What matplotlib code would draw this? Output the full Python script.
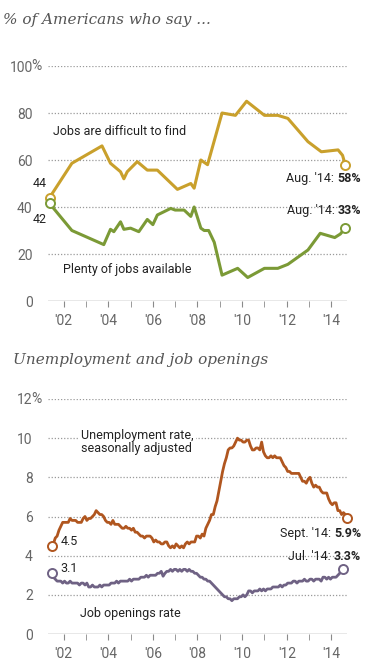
import matplotlib
matplotlib.use("Agg")
import matplotlib.pyplot as plt
import numpy as np

plt.rcParams['font.family'] = ['Roboto', 'DejaVu Sans']

# --- survey: % of Americans who say ...
difficult_x = [2001.37, 2002.37, 2003.72, 2004.1, 2004.55, 2004.7, 2004.85, 2005.3, 2005.75,
               2006.2, 2007.1, 2007.7, 2007.85, 2008.15, 2008.45, 2009.1, 2009.7, 2010.2,
               2011.0, 2011.6, 2012.05, 2012.95, 2013.55, 2014.3, 2014.5, 2014.62]
difficult_y = [44, 58.6, 66, 58.6, 55, 52, 55, 59.3, 55.7,
               55.7, 47.5, 50, 48, 60, 58, 80, 79, 85,
               79, 79, 77.7, 67.8, 63.5, 64.3, 62, 58]

plenty_x = [2001.37, 2002.37, 2003.8, 2004.1, 2004.25, 2004.55, 2004.7, 2005.0, 2005.37,
            2005.75, 2006.0, 2006.2, 2006.8, 2007.0, 2007.4, 2007.7, 2007.85, 2008.15,
            2008.3, 2008.5, 2008.75, 2009.1, 2009.8, 2010.25, 2011.0, 2011.6, 2012.05,
            2012.95, 2013.5, 2014.15, 2014.4, 2014.62]
plenty_y = [41.5, 30, 24, 30.5, 29.5, 33.7, 30.5, 31, 29.5,
            34.7, 32.5, 36.6, 39.4, 38.7, 38.7, 36, 40, 31,
            30, 30, 25, 11, 13.9, 10, 13.9, 13.9, 15.6,
            21.7, 28.8, 27, 28.5, 31]

# --- unemployment rate, monthly Jun 2001 - Sep 2014
unemp = [4.5, 4.6, 4.9, 5.0, 5.3, 5.5, 5.7,
         5.7, 5.7, 5.7, 5.9, 5.8, 5.8, 5.8, 5.7, 5.7, 5.7, 5.9, 6.0,
         5.8, 5.9, 5.9, 6.0, 6.1, 6.3, 6.2, 6.1, 6.1, 6.0, 5.8, 5.7,
         5.7, 5.6, 5.8, 5.6, 5.6, 5.6, 5.5, 5.4, 5.4, 5.5, 5.4, 5.4,
         5.3, 5.4, 5.2, 5.2, 5.1, 5.0, 5.0, 4.9, 5.0, 5.0, 5.0, 4.9,
         4.7, 4.8, 4.7, 4.7, 4.6, 4.6, 4.7, 4.7, 4.5, 4.4, 4.5, 4.4,
         4.6, 4.5, 4.4, 4.5, 4.4, 4.6, 4.7, 4.6, 4.7, 4.7, 4.7, 5.0,
         5.0, 4.9, 5.1, 5.0, 5.4, 5.6, 5.8, 6.1, 6.1, 6.5, 6.8, 7.3,
         7.8, 8.3, 8.7, 9.0, 9.4, 9.5, 9.5, 9.6, 9.8, 10.0, 9.9, 9.9,
         9.8, 9.8, 9.9, 9.9, 9.6, 9.4, 9.4, 9.5, 9.5, 9.4, 9.8, 9.3,
         9.1, 9.0, 9.0, 9.1, 9.0, 9.1, 9.0, 9.0, 9.0, 8.8, 8.6, 8.5,
         8.3, 8.3, 8.2, 8.2, 8.2, 8.2, 8.2, 8.0, 7.8, 7.8, 7.7, 7.9,
         8.0, 7.7, 7.5, 7.6, 7.5, 7.5, 7.3, 7.2, 7.2, 7.2, 6.9, 6.7,
         6.6, 6.7, 6.7, 6.3, 6.3, 6.1, 6.2, 6.1, 5.9]

# --- job openings rate, monthly Jun 2001 - Jul 2014
openings = [3.1, 2.9, 2.8, 2.7, 2.7, 2.7, 2.6,
            2.7, 2.6, 2.6, 2.7, 2.6, 2.6, 2.6, 2.6, 2.5, 2.6, 2.6, 2.5,
            2.6, 2.4, 2.4, 2.5, 2.4, 2.4, 2.4, 2.5, 2.4, 2.5, 2.5, 2.5,
            2.5, 2.6, 2.6, 2.6, 2.7, 2.6, 2.7, 2.7, 2.7, 2.7, 2.7, 2.8,
            2.7, 2.8, 2.8, 2.8, 2.8, 2.9, 2.9, 2.9, 3.0, 2.9, 3.0, 3.0,
            3.0, 3.0, 3.1, 3.1, 3.2, 2.95, 3.1, 3.2, 3.2, 3.3, 3.2, 3.3,
            3.3, 3.2, 3.3, 3.2, 3.3, 3.3, 3.2, 3.3, 3.2, 3.2, 3.1, 3.1,
            3.0, 2.9, 2.9, 2.8, 2.8, 2.7, 2.7, 2.6, 2.5, 2.4, 2.3, 2.2,
            2.1, 2.0, 1.9, 1.9, 1.8, 1.8, 1.7, 1.8, 1.8, 1.8, 1.9, 1.9,
            2.0, 1.9, 2.0, 2.2, 2.2, 2.1, 2.2, 2.2, 2.2, 2.3, 2.2, 2.3,
            2.2, 2.3, 2.3, 2.3, 2.4, 2.4, 2.4, 2.4, 2.5, 2.4, 2.5, 2.5,
            2.6, 2.6, 2.6, 2.7, 2.7, 2.6, 2.7, 2.7, 2.7, 2.8, 2.7, 2.7,
            2.8, 2.8, 2.7, 2.8, 2.8, 2.8, 2.7, 2.9, 2.9, 2.8, 2.9, 2.8,
            2.9, 2.9, 2.9, 3.0, 3.1, 3.3, 3.3]

unemp_x = 2001 + 5.5 / 12 + np.arange(len(unemp)) / 12
open_x = 2001 + 5.5 / 12 + np.arange(len(openings)) / 12

GOLD = "#c9a02c"
GREEN = "#7b9a36"
BROWN = "#b0561f"
PURPLE = "#6f6284"
GRID = "#9a9a9a"
TICK = "#666666"
DARK = "#222222"
FS = 9

W, H = 383, 671
fig = plt.figure(figsize=(W / 100, H / 100), dpi=100)


def setup(ax, ymax, ystep):
    ax.set_xlim(2001.3, 2014.7)
    ax.set_ylim(0, ymax)
    for s in ax.spines.values():
        s.set_visible(False)
    ax.axhline(0, color="#8a8a8a", lw=1, zorder=1)
    for v in range(ystep, ymax + 1, ystep):
        ax.axhline(v, color=GRID, lw=0.9, ls=(0, (1, 1.5)), zorder=0)
    ax.set_yticks(range(0, ymax + 1, ystep))
    ax.set_yticklabels([str(v) for v in range(0, ymax + 1, ystep)])
    ax.tick_params(axis="y", length=0, pad=11, labelsize=10, labelcolor=TICK)
    ax.set_xticks(range(2002, 2015, 2))
    ax.set_xticklabels(["'%02d" % (y % 100) for y in range(2002, 2015, 2)])
    ax.set_xticks(range(2003, 2015, 2), minor=True)
    ax.tick_params(axis="x", which="both", length=4, color="#8a8a8a",
                   pad=5, labelsize=10, labelcolor=TICK)
    # hanging percent sign after the top tick label
    ax.annotate("%", xy=(0, ymax), xycoords=("axes fraction", "data"),
                xytext=(-16.5, 0), textcoords="offset pixels",
                ha="left", va="center", fontsize=10, color=TICK)


def end_label(ax, x, y, plain, bold):
    b = ax.text(x, y, bold, fontsize=FS, color=DARK, va="center", ha="right",
                fontweight="bold", clip_on=False)
    ax.annotate(plain, xy=(0, 0.5), xycoords=b, ha="right", va="center",
                fontsize=FS, color=DARK)


# ---------------- top chart
ax1 = fig.add_axes([48 / W, 370 / H, 299 / W, 235 / H])
setup(ax1, 100, 20)
ax1.plot(difficult_x, difficult_y, color=GOLD, lw=2.2, solid_joinstyle="round", zorder=3)
ax1.plot(plenty_x, plenty_y, color=GREEN, lw=2.2, solid_joinstyle="round", zorder=3)
for xs, ys, c in [(difficult_x, difficult_y, GOLD), (plenty_x, plenty_y, GREEN)]:
    ax1.plot([xs[0], xs[-1]], [ys[0], ys[-1]], "o", ms=6.5, mfc="white", mec=c, mew=1.4,
             zorder=4, clip_on=False)

ax1.text(2001.52, 72, "Jobs are difficult to find", fontsize=FS, color=DARK, va="center")
ax1.text(2001.98, 13.6, "Plenty of jobs available", fontsize=FS, color=DARK, va="center")
ax1.text(2001.25, 50, "44", fontsize=FS, color=DARK, va="center", ha="right")
ax1.text(2001.25, 34.5, "42", fontsize=FS, color=DARK, va="center", ha="right")
end_label(ax1, 2015.33, 52, "Aug. '14: ", "58%")
end_label(ax1, 2015.33, 38.3, "Aug. '14: ", "33%")

# ---------------- bottom chart
ax2 = fig.add_axes([48 / W, 37 / H, 299 / W, 235 / H])
setup(ax2, 12, 2)
ax2.plot(unemp_x, unemp, color=BROWN, lw=2.0, zorder=3)
ax2.plot(open_x, openings, color=PURPLE, lw=2.0, zorder=3)
for xs, ys, c in [(unemp_x, unemp, BROWN), (open_x, openings, PURPLE)]:
    ax2.plot([xs[0], xs[-1]], [ys[0], ys[-1]], "o", ms=6.5, mfc="white", mec=c, mew=1.4,
             zorder=4, clip_on=False)

ax2.text(2002.78, 9.8, "Unemployment rate,\nseasonally adjusted", fontsize=FS, color=DARK,
         va="center", linespacing=1.05,
         bbox=dict(facecolor="white", edgecolor="none", pad=2))
ax2.text(2002.75, 1.07, "Job openings rate", fontsize=FS, color=DARK, va="center")
ax2.text(2001.85, 4.7, "4.5", fontsize=FS, color=DARK, va="center")
ax2.text(2001.85, 3.37, "3.1", fontsize=FS, color=DARK, va="center")
end_label(ax2, 2015.33, 5.15, "Sept. '14: ", "5.9%")
end_label(ax2, 2015.33, 3.98, "Jul. '14: ", "3.3%")

fig.text(3 / W, 1 - 20 / H, "% of Americans who say ...", family="DejaVu Serif",
         style="italic", fontsize=11, color="#555555", va="center")
fig.text(13 / W, 1 - 360 / H, "Unemployment and job openings", family="DejaVu Serif",
         style="italic", fontsize=11, color="#555555", va="center")

fig.savefig("out.png", dpi=100)
